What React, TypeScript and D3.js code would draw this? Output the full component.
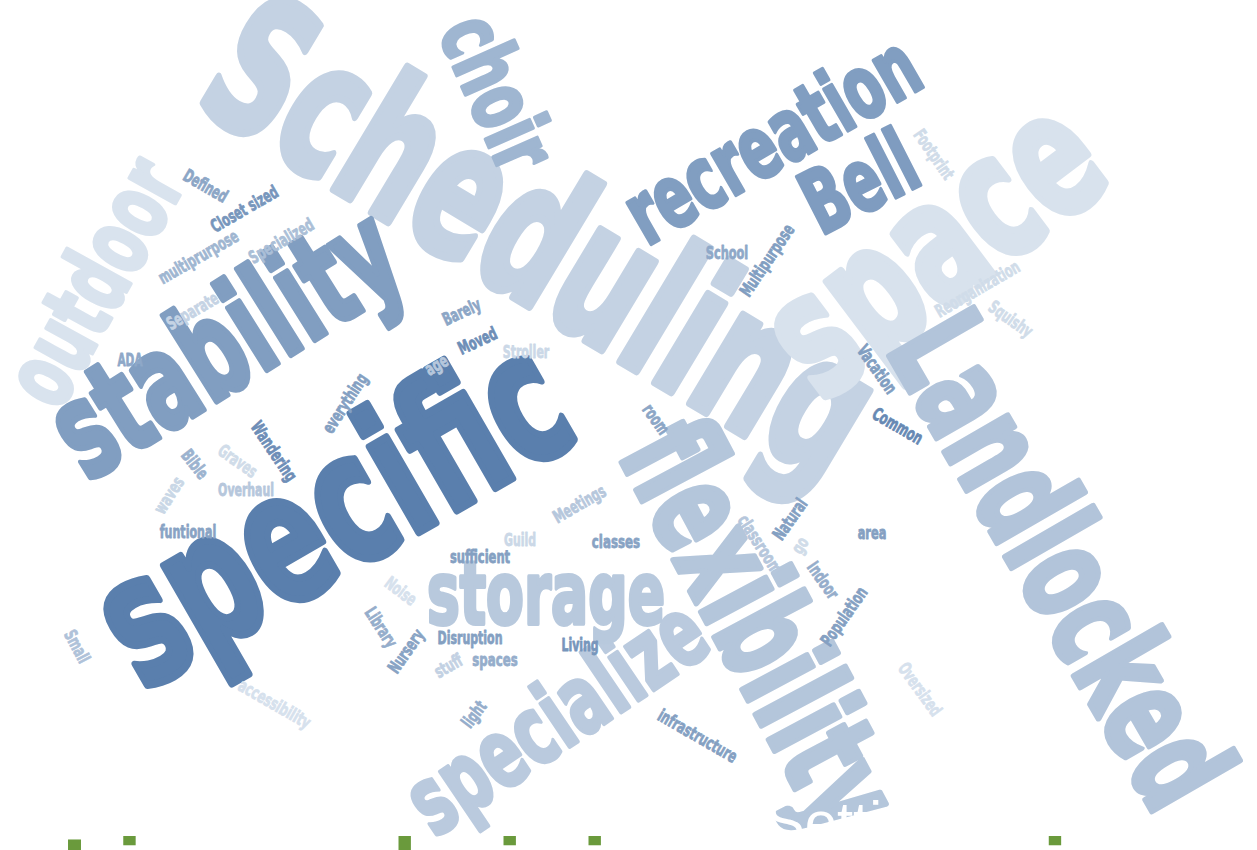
import * as d3 from 'd3';
import React, { useEffect } from 'react';

const width = 1257;
const height = 850;

// words from the survey answers
const words = [
  'Scheduling', 'specific', 'space', 'Landlocked', 'flexibility', 'stability', 'outdoor', 'specialize',
  'recreation', 'storage', 'Bell', 'choir',
  'Defined', 'Closet sized', 'multiprurpose', 'Specialized', 'Separate', 'ADA', 'Barely', 'Moved', 'age',
  'Stroller', 'room', 'Meetings',
  'everything', 'Wandering', 'Bible', 'Graves', 'waves', 'Overhaul', 'funtional', 'Noise', 'Library',
  'Nursery', 'accessibility', 'Small',
  'Guild', 'classes', 'sufficient', 'Disruption', 'Living', 'spaces', 'stuff', 'light', 'infrastructure',
  'classroom',
  'School', 'Multipurpose', 'Footprint', 'Reorganization', 'Squishy', 'Vacation', 'Common',
  'Natural', 'go', 'area', 'Indoor', 'Population', 'Oversized',
];

// how many times each word came up
const counts = [
  23, 22, 21, 16, 16, 16, 11, 11, 10, 10, 10, 10,
  1, 1, 1, 1, 1, 1, 1, 1, 1, 1, 1, 1,
  1, 1, 1, 1, 1, 1, 1, 1, 1, 1, 1, 1,
  1, 1, 1, 1, 1, 1, 1, 1, 1, 1,
  1, 1, 1, 1, 1, 1, 1,
  1, 1, 1, 1, 1, 1,
];

// second measure, drives the shade of blue (0 light .. 1 dark)
const shades = [
  0.19, 1, 0.04, 0.33, 0.31, 0.7, 0.03, 0.27, 0.7, 0.28, 0.72, 0.47,
  0.62, 0.78, 0.47, 0.38, 0.18, 0.6, 0.62, 0.85, 0.3, 0.14, 0.62, 0.3,
  0.68, 0.85, 0.5, 0.1, 0.15, 0.3, 0.65, 0.05, 0.55, 0.65, 0.05, 0.35,
  0.14, 0.65, 0.68, 0.68, 0.78, 0.55, 0.2, 0.55, 0.68, 0.3,
  0.6, 0.7, 0.1, 0.1, 0.1, 0.7, 0.9,
  0.68, 0.1, 0.68, 0.55, 0.68, 0.05,
];

// cloud layout (layout space 1257 x 850, angle in degrees)
const layoutX = [
  535, 338, 940, 1052, 752, 230, 100, 560, 775, 546, 862, 492,
  205, 245, 199, 282, 193, 130, 462, 478, 437, 526, 655, 580,
  346, 273, 194, 237, 170, 246, 188, 400, 380, 407, 274, 76,
  520, 616, 480, 470, 580, 495, 449, 475, 697, 759,
  727, 768, 933, 978, 1010, 876, 897,
  791, 801, 872, 822, 845, 919,
];
const layoutY = [
  250, 522, 255, 565, 630, 350, 285, 722, 145, 600, 188, 95,
  187, 210, 258, 242, 312, 361, 313, 342, 366, 353, 420, 505,
  404, 452, 465, 462, 496, 491, 533, 592, 628, 652, 705, 647,
  541, 543, 558, 639, 646, 661, 667, 715, 737, 545,
  254, 261, 155, 290, 320, 370, 427,
  520, 546, 534, 581, 617, 690,
];
const layoutAngle = [
  31, -30, -37, 60, 62, -32, -61, -34, -30, 0, -27, 66,
  30, -30, -30, -30, -30, 0, -25, -25, -30, 0, 55, -30,
  -57, 56, 52, 35, -57, 0, 0, 37, 57, -55, 30, 62,
  0, 0, 0, 0, 0, 0, -30, -53, 30, 57,
  0, -56, 55, -30, 35, 55, 30,
  -55, -58, 0, 55, -55, 54,
];

const titleText = 'Lisa a chair in a space is necessary';
const overlayText = 'Setting';

// advance widths of the cloud's heavy condensed face, in em
const glyphWidth: Record<string, number> = {
  a: 0.5, b: 0.51, c: 0.49, d: 0.51, e: 0.5, f: 0.3, g: 0.51, h: 0.51, i: 0.25, j: 0.25, k: 0.47,
  l: 0.25, m: 0.76, n: 0.51, o: 0.5, p: 0.51, q: 0.51, r: 0.35, s: 0.46, t: 0.31, u: 0.51, v: 0.45,
  w: 0.67, x: 0.44, y: 0.45, z: 0.38, ' ': 0.18,
  A: 0.54, B: 0.54, C: 0.53, D: 0.54, E: 0.43, F: 0.41, G: 0.54, I: 0.26, L: 0.42, M: 0.68, N: 0.54,
  O: 0.53, P: 0.51, R: 0.54, S: 0.49, V: 0.5, W: 0.75,
};
const emWidth = (w: string) => Array.from(w).reduce((s, c) => s + (glyphWidth[c] ?? 0.5), 0);

export default function App() {
  useEffect(() => {
    document.body.style.margin = '0';
  }, []);

  const x = d3.scaleLinear().domain([0, 1257]).range([0, width]);
  const y = d3.scaleLinear().domain([0, 850]).range([0, height]);
  const size = d3.scaleLinear().domain([1, 21]).range([15.5, 150]);
  const color = d3
    .scaleLinear<string>()
    .domain([0, 1])
    .range(['#dde6f0', '#5a7fad'])
    .interpolate(d3.interpolateRgb);

  const cloud = words.map((w, i) => ({
    text: w,
    s: size(counts[i]),
    fill: color(shades[i]),
    x: x(layoutX[i]),
    y: y(layoutY[i]),
    a: layoutAngle[i],
  }));

  return (
    <svg width={width} height={height} style={{ display: 'block', background: '#fff' }}>
      {cloud.map(d => (
        <g key={d.text} transform={`translate(${d.x},${d.y}) rotate(${d.a})`}>
          <text
            textAnchor="middle"
            y={0.315 * d.s}
            fontSize={1.15 * d.s}
            fontFamily="'DejaVu Sans Condensed', 'DejaVu Sans', sans-serif"
            fontWeight="bold"
            fontStretch="condensed"
            fill={d.fill}
            stroke={d.fill}
            strokeWidth={0.05 * d.s}
            strokeLinejoin="round"
            textLength={d.s * emWidth(d.text)}
            lengthAdjust="spacingAndGlyphs"
          >
            {d.text}
          </text>
        </g>
      ))}
      <text x={766} y={842} fontSize={58} fontFamily="'Liberation Sans', Arial, sans-serif" fill="#fff">
        {overlayText}
      </text>
      <text
        x={62}
        y={902}
        fontSize={90}
        fontWeight="bold"
        fontFamily="'Liberation Sans', Arial, sans-serif"
        fill="#6a9a3c"
      >
        {titleText}
      </text>
    </svg>
  );
}
